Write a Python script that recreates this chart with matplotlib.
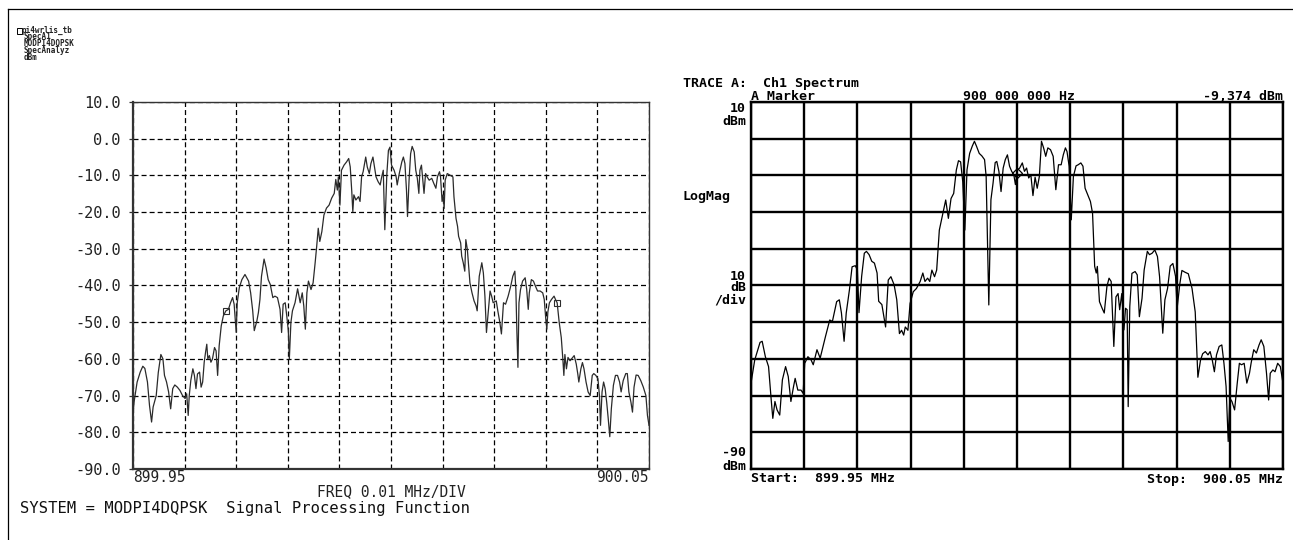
import matplotlib
matplotlib.use("Agg")
import matplotlib.pyplot as plt
import numpy as np
from matplotlib.lines import Line2D
from matplotlib.patches import Rectangle

plt.rcParams['lines.scale_dashes'] = False
MONO = ['DejaVu Sans Mono']

W, H = 1293, 540
CARRIER_MHZ = 900.0
START_MHZ, STOP_MHZ = 899.95, 900.05

# ---- simulated spectrum (ADS SpecAnalyz output), offsets in kHz from carrier
sim_offset_khz = [
    -50.0, -49.8, -49.6, -49.2, -48.6, -48.1, -47.7, -47.2, -46.8, -46.4,
    -46.1, -45.5, -45.1, -44.6, -44.2, -43.9, -43.5, -43.1, -42.7, -42.3,
    -41.9, -41.4, -40.9, -40.4, -39.9, -39.6, -39.3, -39.1, -38.8, -38.4,
    -38.1, -37.8, -37.5, -37.1, -36.8, -36.5, -36.2, -35.9, -35.7, -35.5,
    -35.2, -34.9, -34.6, -34.2, -33.9, -33.6, -33.3, -32.9, -32.5, -32.0,
    -31.5, -31.1, -30.7, -30.4, -30.0, -29.8, -29.4, -28.9, -28.3, -27.6,
    -27.2, -26.8, -26.5, -26.0, -25.7, -25.4, -25.1, -24.6, -24.2, -23.8,
    -23.4, -22.9, -22.5, -22.0, -21.5, -21.2, -20.9, -20.5, -20.2, -19.9,
    -19.7, -19.4, -19.1, -18.6, -18.1, -17.6, -17.2, -16.9, -16.6, -16.3,
    -16.0, -15.5, -15.1, -14.7, -14.4, -14.1, -13.8, -13.4, -13.0, -12.5,
    -12.0, -11.5, -11.0, -10.7, -10.4, -10.2, -9.9, -9.6, -9.1, -8.6,
    -8.2, -7.9, -7.6, -7.4, -7.2, -6.8, -6.3, -6.0, -5.7, -5.4,
    -4.9, -4.6, -4.2, -3.9, -3.5, -3.2, -2.9, -2.5, -2.1, -1.8,
    -1.5, -1.2, -0.8, -0.5, -0.2,
    0.1, 0.6, 1.0, 1.2, 1.6, 2.1, 2.4, 2.7, 3.0, 3.2,
    3.5, 3.8, 4.1, 4.5, 4.8, 5.1, 5.4, 5.6, 5.9, 6.1,
    6.4, 6.7, 7.0, 7.4, 7.9, 8.3, 8.7, 9.0, 9.4, 9.6,
    9.9, 10.1, 10.3, 10.5, 10.9, 11.4, 12.0, 12.2, 12.6, 12.9,
    13.1, 13.5, 13.7, 14.0, 14.3, 14.5, 14.8, 15.0, 15.3, 15.7,
    16.1, 16.5, 16.7, 17.1, 17.6, 17.9, 18.2, 18.5, 18.9, 19.2,
    19.5, 19.8, 20.4, 20.7, 21.1, 21.4, 21.8, 22.2, 22.7, 23.2,
    23.6, 24.0, 24.2, 24.4, 24.6, 24.8, 25.1, 25.5, 26.0, 26.3,
    26.6, 26.8, 27.2, 27.6, 28.0, 28.4, 28.9, 29.4, 29.7, 30.0,
    30.2, 30.4, 30.7, 31.1, 31.6, 32.0, 32.2, 32.6, 33.0, 33.3,
    33.5, 33.7, 34.0, 34.3, 34.7, 35.1, 35.5, 35.9, 36.2, 36.4,
    36.8, 37.1, 37.4, 37.8, 38.2, 38.6, 39.0, 39.3, 39.7, 40.1,
    40.4, 40.6, 40.9, 41.2, 41.5, 41.8, 42.1, 42.4, 42.7, 43.1,
    43.5, 43.9, 44.3, 44.6, 45.0, 45.5, 45.8, 46.1, 46.5, 46.8,
    47.1, 47.5, 47.9, 48.4, 48.9, 49.4, 49.7, 50.0,
]
sim_level_dbm = [
    -74.9, -71.8, -70.0, -66.3, -63.6, -62.0, -62.6, -66.3, -72.7, -77.2,
    -73.1, -70.0, -63.7, -58.8, -60.0, -64.5, -66.3, -69.0, -73.6, -68.1,
    -67.1, -67.7, -68.6, -70.0, -70.8, -69.5, -75.4, -70.0, -65.9, -62.7,
    -64.5, -68.1, -64.1, -63.6, -67.7, -66.3, -60.9, -57.8, -56.0, -60.0,
    -59.1, -60.9, -60.0, -56.9, -57.8, -64.5, -56.4, -51.0, -48.3, -46.9,
    -46.5, -44.7, -43.3, -45.1, -52.8, -44.7, -40.6, -38.4, -37.0, -38.8,
    -42.0, -46.9, -52.3, -49.7, -47.4, -43.8, -37.5, -32.8, -35.2, -38.4,
    -39.7, -43.3, -42.9, -43.3, -46.5, -52.8, -45.1, -44.7, -48.3, -52.3,
    -60.0, -50.1, -46.9, -44.7, -40.9, -44.7, -42.0, -45.6, -51.9, -42.0,
    -38.8, -41.1, -39.3, -33.8, -29.3, -24.4, -28.0, -25.3, -20.8, -18.9,
    -18.1, -16.2, -14.9, -11.1, -14.0, -10.4, -18.1, -8.6, -7.2, -6.3,
    -5.4, -7.7, -14.4, -19.9, -15.3, -16.7, -15.8, -17.1, -10.4, -9.0,
    -5.0, -7.7, -9.5, -6.8, -5.0, -7.7, -10.4, -11.7, -12.6, -10.4,
    -8.6, -24.8, -9.5, -3.2, -2.3,
    -7.2, -8.6, -10.4, -12.6, -9.5, -6.3, -5.0, -6.8, -14.0, -21.2,
    -11.3, -4.1, -2.1, -3.6, -8.6, -10.8, -14.9, -8.6, -7.2, -10.4,
    -14.9, -9.5, -10.4, -11.3, -10.8, -12.2, -13.5, -10.4, -9.0, -10.4,
    -17.1, -15.3, -19.0, -11.3, -9.5, -9.9, -10.4, -15.8, -21.7, -23.9,
    -26.6, -28.4, -32.0, -33.8, -36.1, -27.5, -30.2, -33.8, -39.3, -42.0,
    -44.2, -45.6, -46.9, -37.5, -33.8, -36.6, -42.9, -52.8, -46.5, -41.5,
    -42.9, -44.7, -44.2, -46.9, -50.1, -53.2, -44.7, -45.1, -42.9, -40.2,
    -37.5, -36.1, -41.1, -52.8, -62.3, -44.7, -41.1, -38.8, -37.9, -41.1,
    -46.5, -42.0, -38.4, -38.8, -40.2, -41.5, -41.5, -42.0, -43.8, -49.2,
    -51.9, -47.2, -44.7, -43.8, -42.9, -44.2, -44.7, -50.1, -54.2, -60.0,
    -64.5, -58.8, -62.7, -59.6, -60.5, -59.8, -59.1, -61.4, -64.1, -66.3,
    -62.7, -61.0, -62.7, -66.3, -69.0, -70.0, -64.5, -64.0, -64.5, -65.4,
    -70.0, -78.1, -69.0, -66.3, -68.1, -71.8, -76.3, -81.2, -73.6, -67.2,
    -64.5, -64.5, -66.3, -69.0, -65.9, -64.0, -64.0, -69.0, -71.8, -74.5,
    -67.7, -64.4, -64.5, -65.9, -67.7, -70.0, -75.4, -78.1,
]
sim_marker_offset_khz = [-31.9, 32.2]
sim_marker_level_dbm = [-46.9, -44.7]

# ---- measured spectrum (analyzer trace A), offsets in kHz from carrier
meas_offset_khz = [
    -50.0, -49.3, -48.3, -47.9, -47.3, -46.7, -46.2, -45.9, -45.5, -45.1,
    -44.6, -44.1, -43.5, -43.0, -42.5, -42.0, -41.7, -41.2, -40.6, -40.2,
    -39.9, -39.3, -38.7, -38.3, -37.6, -37.0, -36.0, -35.2, -34.7, -33.9,
    -33.4, -33.0, -32.5, -32.1, -31.5, -31.0, -30.4, -30.0, -29.7, -29.2,
    -28.7, -28.3, -27.8, -27.3, -26.8, -26.3, -26.0, -25.4, -24.7, -24.2,
    -23.7, -23.1, -22.6, -22.1, -21.7, -21.3, -21.0, -20.5, -20.1, -19.5,
    -18.9, -18.2, -17.7, -17.3, -16.8, -16.4, -16.0, -15.5, -15.1, -14.6,
    -14.0, -13.4, -12.9, -12.4, -11.9, -11.4, -11.0, -10.6, -10.2, -9.8,
    -9.4, -8.9, -8.4, -8.0, -7.6, -7.1, -6.6, -6.1, -5.8, -5.3,
    -4.9, -4.5, -4.1, -3.8, -3.4, -3.0, -2.6, -2.2, -1.8, -1.4,
    -1.0, -0.6, -0.3, 0.1, 0.5, 1.0, 1.4, 1.8, 2.2, 2.6,
    3.0, 3.4, 3.8, 4.2, 4.6, 5.0, 5.4, 5.8, 6.3, 6.8,
    7.3, 7.8, 8.3, 8.7, 9.1, 9.4, 9.8, 10.2, 10.6, 11.1,
    11.5, 12.0, 12.4, 12.8, 13.3, 13.8, 14.2, 14.6, 14.9, 15.1,
    15.5, 16.0, 16.4, 16.9, 17.3, 17.7, 18.2, 18.6, 19.0, 19.3,
    19.7, 20.1, 20.4, 20.7, 20.9, 21.2, 21.6, 22.2, 22.6, 23.0,
    23.5, 23.9, 24.5, 24.9, 25.4, 25.9, 26.4, 26.8, 27.4, 27.8,
    28.3, 28.8, 29.3, 29.8, 30.1, 30.6, 31.0, 31.6, 32.2, 32.9,
    33.5, 34.0, 34.5, 34.9, 35.4, 35.9, 36.3, 36.7, 37.1, 37.5,
    38.0, 38.5, 38.9, 39.3, 39.7, 40.0, 40.4, 40.9, 41.4, 41.8,
    42.2, 42.7, 43.2, 43.7, 44.0, 44.5, 45.0, 45.5, 45.9, 46.4,
    46.9, 47.3, 47.6, 48.1, 48.5, 49.0, 49.5, 50.0,
]
meas_level_dbm = [
    -66.6, -60.3, -55.5, -55.2, -59.4, -62.1, -71.2, -76.2, -71.6, -73.9,
    -75.3, -65.7, -62.1, -64.8, -71.6, -67.5, -65.3, -68.5, -68.5, -69.4,
    -61.2, -59.4, -60.3, -61.6, -57.5, -59.8, -53.9, -49.4, -49.8, -44.4,
    -43.9, -47.5, -55.2, -47.5, -41.2, -34.9, -34.6, -35.8, -47.4, -37.5,
    -31.2, -30.7, -31.6, -33.4, -33.9, -36.6, -44.3, -45.2, -51.3, -38.5,
    -37.6, -39.8, -43.9, -53.1, -52.2, -53.5, -51.3, -52.2, -44.9, -41.7,
    -40.8, -38.9, -36.6, -38.9, -38.0, -38.9, -35.8, -37.6, -35.8, -24.9,
    -20.8, -16.7, -21.7, -16.3, -14.9, -8.5, -6.0, -6.3, -11.7, -24.9,
    -8.5, -4.0, -2.0, -0.7, -2.1, -4.0, -4.7, -5.7, -10.3, -45.3,
    -16.6, -12.1, -6.5, -6.2, -8.9, -14.4, -8.0, -5.7, -4.4, -7.5,
    -8.9, -9.8, -12.5, -8.5, -8.0, -6.6, -8.9, -8.0, -10.7, -9.8,
    -15.5, -10.5, -13.5, -10.3, -0.7, -2.5, -4.8, -2.5, -3.0, -4.8,
    -13.9, -7.1, -7.1, -4.4, -2.5, -3.5, -7.5, -22.1, -10.3, -7.4,
    -7.1, -6.6, -7.5, -13.5, -15.3, -17.1, -20.3, -34.8, -36.6, -34.8,
    -44.4, -46.2, -47.5, -40.3, -38.0, -38.9, -56.6, -43.1, -42.2, -46.6,
    -42.2, -52.1, -46.2, -46.6, -73.0, -45.7, -36.7, -36.2, -37.1, -48.5,
    -43.5, -35.8, -30.7, -31.6, -31.2, -30.3, -32.1, -37.6, -53.0, -43.9,
    -40.8, -34.7, -34.0, -37.5, -46.2, -39.6, -35.9, -36.4, -36.8, -40.8,
    -47.2, -65.0, -60.3, -58.6, -58.0, -58.9, -58.0, -60.3, -63.5, -58.9,
    -56.6, -56.2, -61.2, -67.5, -82.5, -70.7, -71.6, -73.9, -66.6, -61.2,
    -61.6, -61.2, -66.6, -63.9, -61.2, -57.5, -58.4, -56.2, -54.8, -56.6,
    -63.9, -71.2, -63.9, -63.0, -63.5, -61.2, -62.1, -66.6,
]
marker_offset_khz = 0.0
marker_level_dbm = -9.374

y_ticks = [10, 0, -10, -20, -30, -40, -50, -60, -70, -80, -90]
legend_lines = ["pi4wrlis_tb", "SpecA1", "MODPI4DQPSK", "SpecAnalyz", "dBm"]


def to_mhz(offsets_khz):
    return CARRIER_MHZ + np.asarray(offsets_khz) / 1000.0


fig = plt.figure(figsize=(W / 100, H / 100), dpi=100)
fig.patch.set_facecolor('white')


def px_axes(x0, y0, x1, y1):
    return fig.add_axes([x0 / W, 1 - y1 / H, (x1 - x0) / W, (y1 - y0) / H])


def ftext(x, y, s, **kw):
    kw.setdefault('family', MONO)
    kw.setdefault('va', 'center')
    fig.text(x / W, 1 - y / H, s, **kw)


# page frame
fig.add_artist(Line2D([7.5 / W, 1.0], [1 - 9 / H, 1 - 9 / H], color='black', lw=0.9))
fig.add_artist(Line2D([7.5 / W, 7.5 / W], [0.0, 1 - 9 / H], color='black', lw=0.9))

# ---------------- left: simulated spectrum ----------------
axl = px_axes(133, 102, 649, 469)
axl.plot(to_mhz(sim_offset_khz), sim_level_dbm, color='#2b2b2b', lw=0.9, zorder=3)
axl.plot(to_mhz(sim_marker_offset_khz), sim_marker_level_dbm, ls='none', marker='s',
         ms=4, mfc='none', mec='#2b2b2b', mew=0.8, zorder=4)
axl.set_xlim(START_MHZ, STOP_MHZ)
axl.set_ylim(-90, 10)
axl.set_xticks(np.linspace(START_MHZ, STOP_MHZ, 11))
axl.set_xticklabels([])
axl.set_yticks(y_ticks)
axl.set_yticklabels([f"{v:.1f}" for v in y_ticks], family=MONO, fontsize=11, color='#222222')
axl.tick_params(axis='x', length=0)
axl.tick_params(axis='y', length=3, width=0.9, pad=6, color='#333333')
axl.grid(True, color='black', lw=0.9, linestyle=(0, (3.6, 2.2)))
for side, lw in (('left', 1.6), ('bottom', 1.6), ('top', 1.0), ('right', 1.0)):
    axl.spines[side].set_linewidth(lw)
    axl.spines[side].set_color('#333333')

ftext(133, 478, f"{START_MHZ:.2f}", ha='left', fontsize=10.5, color='#222222')
ftext(649, 478, f"{STOP_MHZ:.2f}", ha='right', fontsize=10.5, color='#222222')
ftext(391, 492, "FREQ 0.01 MHz/DIV", ha='center', fontsize=10.5, color='#222222')
ftext(20, 509, "SYSTEM = MODPI4DQPSK  Signal Processing Function", ha='left',
      fontsize=11.2, color='#111111')

# small data-set legend
fig.add_artist(Rectangle((16.5 / W, 1 - 33.5 / H), 5 / W, 5 / H, fill=False,
                         edgecolor='black', lw=0.7, transform=fig.transFigure))
for i, line in enumerate(legend_lines):
    ftext(22 if i == 0 else 24, 30 + i * 6.9, line, ha='left', fontsize=5.5,
          weight='bold', color='#222222')

# ---------------- right: analyzer trace ----------------
axr = px_axes(751, 102, 1283, 469)
axr.plot(to_mhz(meas_offset_khz), meas_level_dbm, color='black', lw=0.9, zorder=3)
axr.plot([CARRIER_MHZ + marker_offset_khz / 1000.0], [marker_level_dbm], ls='none',
         marker='D', ms=5.5, mfc='none', mec='black', mew=0.9, zorder=4)
axr.set_xlim(START_MHZ, STOP_MHZ)
axr.set_ylim(-90, 10)
axr.set_xticks(np.linspace(START_MHZ, STOP_MHZ, 11))
axr.set_yticks(y_ticks)
axr.set_xticklabels([])
axr.set_yticklabels([])
axr.tick_params(length=0)
axr.grid(True, color='black', lw=1.7, linestyle='-')
for side in axr.spines:
    axr.spines[side].set_linewidth(1.7)
    axr.spines[side].set_color('black')

RS = 9.5
ftext(683, 84, "TRACE A:  Ch1 Spectrum", ha='left', fontsize=RS, weight='bold')
ftext(751, 96.5, "A Marker", ha='left', fontsize=RS, weight='bold')
ftext(963, 96.5, f"{int(CARRIER_MHZ * 1e6):,} Hz".replace(',', ' '), ha='left',
      fontsize=RS, weight='bold')
ftext(1283, 96.5, f"{marker_level_dbm:.3f}".replace('.', ',') + " dBm", ha='right',
      fontsize=RS, weight='bold')
ftext(746, 108.5, "10", ha='right', fontsize=RS, weight='bold')
ftext(746, 121.5, "dBm", ha='right', fontsize=RS, weight='bold')
ftext(683, 196.5, "LogMag", ha='left', fontsize=RS, weight='bold')
ftext(746, 276, "10", ha='right', fontsize=RS, weight='bold')
ftext(746, 287.5, "dB", ha='right', fontsize=RS, weight='bold')
ftext(746, 300, "/div", ha='right', fontsize=RS, weight='bold')
ftext(746, 453, "-90", ha='right', fontsize=RS, weight='bold')
ftext(746, 466, "dBm", ha='right', fontsize=RS, weight='bold')
ftext(751, 479, f"Start:  {START_MHZ:.2f} MHz", ha='left', fontsize=RS, weight='bold')
ftext(1283, 479, f"Stop:  {STOP_MHZ:.2f} MHz", ha='right', fontsize=RS, weight='bold')

fig.savefig("out.png", dpi=100, facecolor='white')
